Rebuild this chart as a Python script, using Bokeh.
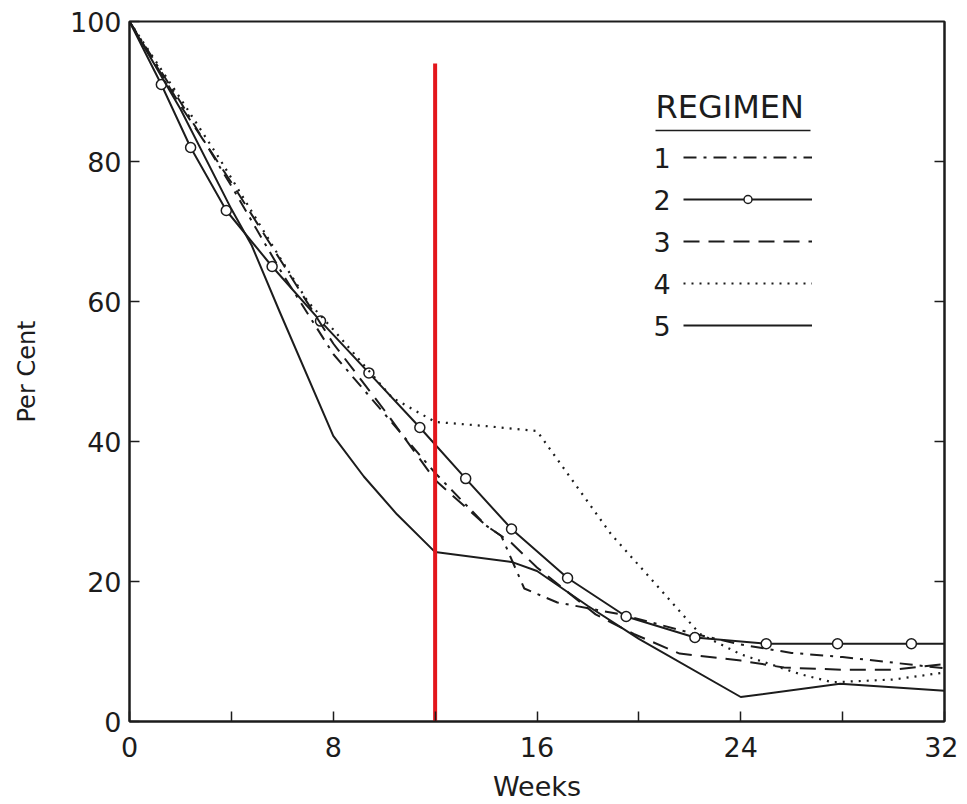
from bokeh.plotting import figure
from bokeh.models import (Range1d, FixedTicker, LinearAxis, Legend, LegendItem,
                          Label, Arrow)
from bokeh.embed import file_html
from bokeh.resources import INLINE

# ---- data ----
weeks_1 = [0, 2, 4, 6, 8, 10, 12, 14, 14.6, 15.5, 16.8, 19.3, 22.2, 24, 26, 28, 30, 32]
pct_1 = [100, 88.5, 76.5, 64, 52.5, 44, 35.5, 28, 26.5, 19, 17, 15.3, 12.5, 11, 9.8, 9.2, 8.4, 7.6]

weeks_2 = [0, 1.25, 2.4, 3.8, 5.6, 7.5, 9.4, 11.4, 13.2, 15.0, 17.2, 19.5, 22.2, 25.0, 27.8, 30.7, 32]
pct_2 = [100, 91, 82, 73, 65, 57.2, 49.8, 42, 34.7, 27.5, 20.5, 15, 12, 11.1, 11.1, 11.1, 11.1]

weeks_3 = [0, 2, 4, 6, 8, 10, 12, 14, 15, 16, 18.3, 19.8, 21.6, 24, 25.7, 28, 30, 32]
pct_3 = [100, 88, 77, 65.5, 54, 44.5, 34.5, 28, 25.5, 22, 15.3, 12.5, 9.7, 8.7, 7.7, 7.4, 7.4, 8.2]

weeks_4 = [0, 2, 3.5, 5.9, 7, 8, 10.3, 12, 14, 16, 18.9, 22.4, 24, 26.3, 27.6, 30, 32]
pct_4 = [100, 89, 80.6, 66.3, 60, 56, 46.3, 42.8, 42.2, 41.5, 26.8, 12.5, 9.6, 6.8, 5.6, 6, 7]

weeks_5 = [0, 2, 4, 4.8, 5.9, 8, 9.2, 10.5, 12, 15, 16, 18, 20, 24, 27.9, 32]
pct_5 = [100, 87.5, 73.2, 68, 58.5, 40.8, 35, 29.6, 24.2, 22.8, 21.5, 16.5, 11.8, 3.5, 5.4, 4.4]

marker_line = 12      # week of the red vertical mark
marker_top = 94

regimens = ["1", "2", "3", "4", "5"]
x_labels = [0, 8, 16, 24, 32]
x_minor = [4, 12, 20, 28]
y_ticks = [0, 20, 40, 60, 80, 100]
y_right_ticks = [20, 40, 60, 80]

INK = "#1c1c1c"
FONT = "DejaVu Sans"

p = figure(frame_width=815, frame_height=700, output_backend="svg",
           toolbar_location=None, x_range=Range1d(0, 32), y_range=Range1d(0, 100),
           min_border_left=129, min_border_right=14, min_border_top=21,
           min_border_bottom=70)
p.background_fill_color = "white"
p.border_fill_color = "white"
p.grid.visible = False
p.outline_line_color = INK
p.outline_line_width = 2


def style_ticks(ax):
    ax.axis_line_color = INK
    ax.axis_line_width = 2
    ax.major_tick_line_color = INK
    ax.major_tick_line_width = 1.5
    ax.major_tick_in = 10
    ax.major_tick_out = 0
    ax.minor_tick_line_color = INK
    ax.minor_tick_line_width = 1.5
    ax.minor_tick_in = 10
    ax.minor_tick_out = 0


for ax in (p.xaxis[0], p.yaxis[0]):
    style_ticks(ax)
    ax.major_label_text_font = FONT
    ax.major_label_text_font_size = "27px"
    ax.major_label_text_color = INK
    ax.axis_label_text_font = FONT
    ax.axis_label_text_font_style = "normal"
    ax.axis_label_text_color = INK

p.xaxis.ticker = FixedTicker(ticks=x_labels, minor_ticks=x_minor)
p.xaxis.major_label_standoff = 15
p.xaxis.axis_label = "Weeks"
p.xaxis.axis_label_text_font_size = "27px"
p.xaxis.axis_label_standoff = 11

p.yaxis.ticker = FixedTicker(ticks=y_ticks, minor_ticks=[])
p.yaxis.major_label_standoff = 8
p.yaxis.axis_label = "Per Cent"
p.yaxis.axis_label_text_font_size = "24px"
p.yaxis.axis_label_standoff = 26

right = LinearAxis(ticker=FixedTicker(ticks=[], minor_ticks=y_right_ticks))
style_ticks(right)
p.add_layout(right, "right")

LW = 2
r1 = p.line(weeks_1, pct_1, line_color=INK, line_width=LW, line_dash="13 7 3 7")
r2 = p.line(weeks_2, pct_2, line_color=INK, line_width=LW)
r2m = p.scatter(weeks_2[1:-1], pct_2[1:-1], marker="circle", size=10,
                fill_color="white", line_color=INK, line_width=1.5)
r3 = p.line(weeks_3, pct_3, line_color=INK, line_width=LW, line_dash="16 9")
r4 = p.line(weeks_4, pct_4, line_color=INK, line_width=2.2, line_dash="2 6")
r5 = p.line(weeks_5, pct_5, line_color=INK, line_width=LW)

p.segment(x0=[marker_line], y0=[0], x1=[marker_line], y1=[marker_top],
          line_color="#e3161c", line_width=4)

# ---- legend: glyph samples ----
renders = [[r1], [r2, r2m], [r3], [r4], [r5]]
legend = Legend(items=[LegendItem(label=" ", renderers=rs) for rs in renders],
                location=(554, 386), glyph_width=129, glyph_height=20,
                label_width=0, label_height=20, label_standoff=0,
                label_text_font_size="8px", spacing=22, padding=0, margin=0,
                border_line_alpha=0, background_fill_alpha=0)
p.add_layout(legend, "center")

# header, underline and numbers
p.add_layout(Label(x=526, y=615, x_units="screen", y_units="screen", text="REGIMEN",
                   text_font=FONT, text_font_size="32px", text_color=INK,
                   text_baseline="middle", text_align="left"))
p.add_layout(Arrow(x_start=526, y_start=591, x_end=681, y_end=591,
                   start_units="screen", end_units="screen", end=None,
                   line_color=INK, line_width=1.5))
for i, lab in enumerate(regimens):
    p.add_layout(Label(x=524, y=564 - 42 * i, x_units="screen", y_units="screen",
                       text=lab, text_font=FONT, text_font_size="27px",
                       text_color=INK, text_baseline="middle", text_align="left"))

open("out.html", "w").write(file_html(p, INLINE))
